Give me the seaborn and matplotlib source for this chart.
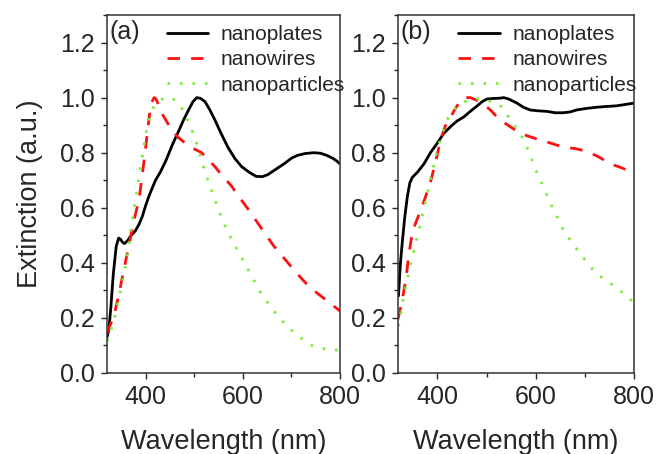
import matplotlib
matplotlib.use("Agg")
import matplotlib.pyplot as plt
import seaborn as sns
from matplotlib.ticker import MultipleLocator

# panel (a)
A_PLATES_WL = [320, 324, 328, 333, 339, 344, 348, 352, 356, 362, 370, 378, 386, 393, 400,
               407, 414, 420, 430, 441, 455, 468, 478, 488, 497, 505, 513, 522, 532, 542,
               555, 569, 583, 597, 612, 627, 640, 651, 668, 685, 700, 712, 728, 746, 760,
               773, 785, 793, 800]
A_PLATES = [0.13, 0.16, 0.24, 0.36, 0.46, 0.49, 0.485, 0.475, 0.47, 0.48, 0.50, 0.515, 0.54,
            0.57, 0.61, 0.645, 0.675, 0.70, 0.73, 0.77, 0.83, 0.88, 0.92, 0.955, 0.985,
            1.00, 0.997, 0.985, 0.955, 0.92, 0.87, 0.82, 0.78, 0.75, 0.73, 0.714, 0.713,
            0.72, 0.74, 0.76, 0.78, 0.79, 0.797, 0.80, 0.798, 0.79, 0.78, 0.77, 0.76]
A_WIRES_WL = [320, 328, 336, 345, 353, 360, 366, 375, 386, 392, 397, 403, 407, 410, 414,
              417, 421, 427, 434, 444, 454, 467, 481, 498, 515, 528, 542, 558, 576, 596,
              617, 640, 664, 688, 712, 733, 753, 775, 800]
A_WIRES = [0.145, 0.18, 0.22, 0.29, 0.36, 0.42, 0.47, 0.55, 0.63, 0.71, 0.78, 0.87, 0.93,
           0.97, 0.99, 1.00, 0.995, 0.97, 0.94, 0.91, 0.88, 0.855, 0.835, 0.815, 0.80,
           0.775, 0.75, 0.715, 0.68, 0.63, 0.58, 0.52, 0.46, 0.41, 0.36, 0.32, 0.29, 0.26,
           0.225]
A_PARTS_WL = [320, 328, 336, 344, 353, 361, 369, 376, 383, 388, 393, 398, 403, 410, 417,
              428, 441, 451, 461, 471, 481, 491, 502, 512, 522, 532, 542, 555, 569, 586,
              603, 620, 637, 657, 678, 700, 725, 742, 759, 780, 800]
A_PARTS = [0.115, 0.155, 0.205, 0.27, 0.34, 0.42, 0.52, 0.60, 0.68, 0.74, 0.79, 0.845, 0.895,
           0.94, 0.97, 0.99, 1.00, 1.00, 0.99, 0.97, 0.94, 0.90, 0.85, 0.79, 0.73, 0.68,
           0.63, 0.57, 0.51, 0.455, 0.40, 0.345, 0.29, 0.24, 0.195, 0.155, 0.12, 0.10, 0.09,
           0.085, 0.082]

# panel (b)
B_PLATES_WL = [321, 325, 329, 334, 339, 344, 349, 360, 373, 386, 400, 413, 427, 440, 454,
               467, 481, 491, 501, 515, 528, 535, 545, 562, 575, 589, 605, 623, 640, 656,
               670, 683, 700, 724, 745, 764, 782, 800]
B_PLATES = [0.28, 0.40, 0.48, 0.57, 0.64, 0.69, 0.71, 0.73, 0.76, 0.80, 0.835, 0.87, 0.895,
            0.915, 0.93, 0.95, 0.97, 0.985, 0.995, 0.997, 0.998, 1.00, 0.995, 0.98, 0.965,
            0.955, 0.952, 0.95, 0.945, 0.945, 0.948, 0.955, 0.96, 0.965, 0.968, 0.97, 0.975,
            0.98]
B_WIRES_WL = [320, 328, 336, 342, 349, 357, 366, 376, 387, 397, 407, 417, 427, 440, 454,
              467, 481, 494, 508, 521, 535, 552, 569, 585, 602, 630, 656, 680, 704, 728,
              751, 775, 800]
B_WIRES = [0.195, 0.26, 0.34, 0.43, 0.51, 0.55, 0.59, 0.64, 0.70, 0.77, 0.85, 0.90, 0.93,
           0.97, 1.00, 1.00, 0.99, 0.975, 0.955, 0.93, 0.91, 0.89, 0.87, 0.86, 0.85, 0.835,
           0.82, 0.815, 0.805, 0.785, 0.76, 0.745, 0.725]
B_PARTS_WL = [321, 333, 346, 360, 373, 387, 400, 410, 420, 433, 447, 464, 481, 501, 521,
              535, 548, 562, 575, 589, 602, 616, 629, 643, 656, 673, 690, 707, 724, 744,
              764, 782, 800]
B_PARTS = [0.17, 0.29, 0.40, 0.50, 0.60, 0.71, 0.81, 0.87, 0.92, 0.955, 0.98, 0.99, 0.995,
           0.99, 0.98, 0.96, 0.92, 0.885, 0.85, 0.79, 0.73, 0.675, 0.62, 0.57, 0.52, 0.475,
           0.435, 0.395, 0.36, 0.335, 0.31, 0.285, 0.255]

LABELS = ["nanoplates", "nanowires", "nanoparticles"]
COLORS = ["black", "#ff1010", "#77ee33"]
STYLES = ["-", (0, (4.5, 4)), (0, (0.9, 3.6))]


def draw_panel(ax, series, tag, show_ylabel):
    for (wl, vals), label, color, ls in zip(series, LABELS, COLORS, STYLES):
        sns.lineplot(x=wl, y=vals, ax=ax, color=color, linewidth=2.0, label=label)
        ax.lines[-1].set_linestyle(ls)
    ax.set_xlim(320, 800)
    ax.set_ylim(0, 1.3)
    ax.xaxis.set_major_locator(MultipleLocator(200))
    ax.xaxis.set_minor_locator(MultipleLocator(100))
    ax.yaxis.set_major_locator(MultipleLocator(0.2))
    ax.yaxis.set_minor_locator(MultipleLocator(0.1))
    ax.yaxis.set_major_formatter(plt.FuncFormatter(lambda v, p: f"{v:.1f}"))
    ax.tick_params(which="major", direction="out", length=4, width=1, labelsize=18,
                   pad=5)
    ax.tick_params(which="minor", direction="out", length=3, width=1)
    for sp in ax.spines.values():
        sp.set_visible(True)
        sp.set_linewidth(1.1)
        sp.set_color("#333333")
    ax.set_xlabel("Wavelength (nm)", fontsize=19.5, labelpad=14)
    if show_ylabel:
        ax.set_ylabel("Extinction (a.u.)", fontsize=19.5, labelpad=12)
    else:
        ax.set_ylabel("")
    ax.text(0.01, 0.985, tag, transform=ax.transAxes, fontsize=18, va="top", ha="left")
    ax.legend(loc="upper left", bbox_to_anchor=(0.22, 0.995), frameon=False, fontsize=15,
              handlelength=2.0, handletextpad=0.6, labelspacing=0.3, borderaxespad=0)


sns.set_style("ticks")
plt.rcParams["font.family"] = ["Liberation Sans", "DejaVu Sans"]

fig = plt.figure(figsize=(6.58, 4.54), dpi=100)
ax_a = fig.add_axes([107 / 658, 81 / 454, 233 / 658, 358 / 454])
ax_b = fig.add_axes([398 / 658, 81 / 454, 236 / 658, 358 / 454])

draw_panel(ax_a, [(A_PLATES_WL, A_PLATES), (A_WIRES_WL, A_WIRES), (A_PARTS_WL, A_PARTS)],
           "(a)", True)
draw_panel(ax_b, [(B_PLATES_WL, B_PLATES), (B_WIRES_WL, B_WIRES), (B_PARTS_WL, B_PARTS)],
           "(b)", False)

fig.savefig("out.png", dpi=100)
